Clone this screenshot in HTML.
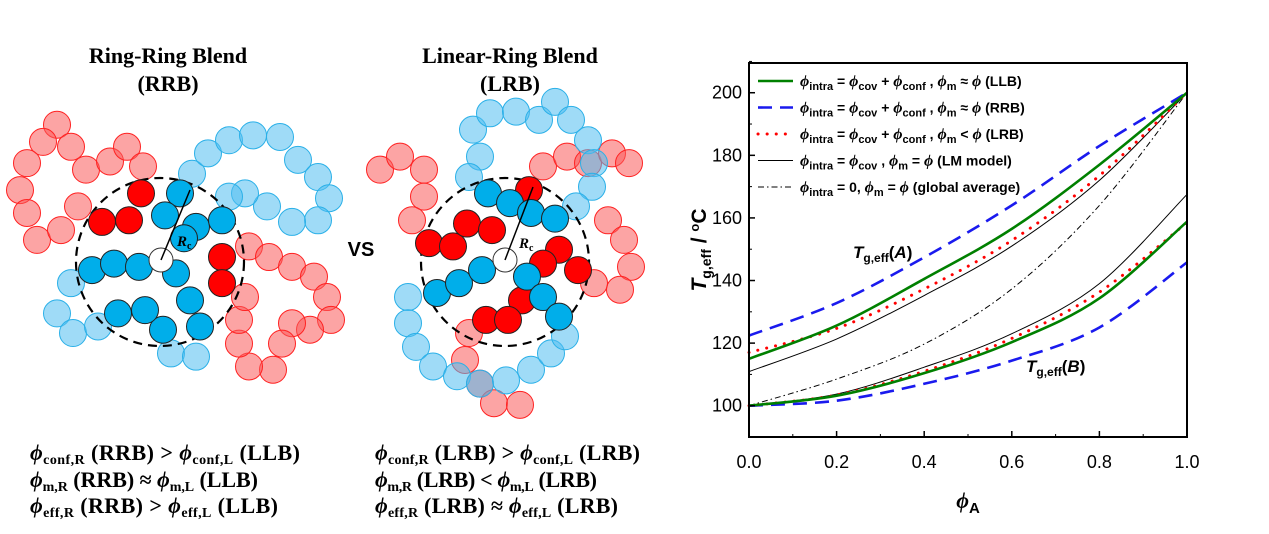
<!DOCTYPE html>
<html><head><meta charset="utf-8">
<style>
body{margin:0;width:1269px;height:534px;background:#fff;overflow:hidden;font-family:"Liberation Sans",sans-serif;}
svg{position:absolute;left:0;top:0}
.ser{font-family:"Liberation Serif",serif;font-weight:bold}
</style></head><body>
<svg id="s" width="1269" height="534">
<g id="diag"></g>
<text class="ser" x="168" y="63" font-size="22" text-anchor="middle">Ring-Ring Blend</text>
<text class="ser" x="168" y="91" font-size="22" text-anchor="middle">(RRB)</text>
<text class="ser" x="510" y="63" font-size="22" text-anchor="middle">Linear-Ring Blend</text>
<text class="ser" x="510" y="91" font-size="22" text-anchor="middle">(LRB)</text>
<text x="361" y="256" font-size="20" font-weight="bold" text-anchor="middle">VS</text>
<g class="ser" font-size="22">
<text x="30" y="460" textLength="270"><tspan font-style="italic">ϕ</tspan><tspan font-size="14" dy="4">conf,R</tspan><tspan dy="-4"> (RRB) &gt; </tspan><tspan font-style="italic">ϕ</tspan><tspan font-size="14" dy="4">conf,L</tspan><tspan dy="-4"> (LLB)</tspan></text>
<text x="30" y="487" textLength="228"><tspan font-style="italic">ϕ</tspan><tspan font-size="14" dy="4">m,R</tspan><tspan dy="-4"> (RRB) ≈ </tspan><tspan font-style="italic">ϕ</tspan><tspan font-size="14" dy="4">m,L</tspan><tspan dy="-4"> (LLB)</tspan></text>
<text x="30" y="513" textLength="248"><tspan font-style="italic">ϕ</tspan><tspan font-size="14" dy="4">eff,R</tspan><tspan dy="-4"> (RRB) &gt; </tspan><tspan font-style="italic">ϕ</tspan><tspan font-size="14" dy="4">eff,L</tspan><tspan dy="-4"> (LLB)</tspan></text>
</g>
<g class="ser" font-size="22">
<text x="375" y="460" textLength="265"><tspan font-style="italic">ϕ</tspan><tspan font-size="14" dy="4">conf,R</tspan><tspan dy="-4"> (LRB) &gt; </tspan><tspan font-style="italic">ϕ</tspan><tspan font-size="14" dy="4">conf,L</tspan><tspan dy="-4"> (LRB)</tspan></text>
<text x="375" y="487" textLength="222"><tspan font-style="italic">ϕ</tspan><tspan font-size="14" dy="4">m,R</tspan><tspan dy="-4"> (LRB) &lt; </tspan><tspan font-style="italic">ϕ</tspan><tspan font-size="14" dy="4">m,L</tspan><tspan dy="-4"> (LRB)</tspan></text>
<text x="375" y="513" textLength="243"><tspan font-style="italic">ϕ</tspan><tspan font-size="14" dy="4">eff,R</tspan><tspan dy="-4"> (LRB) ≈ </tspan><tspan font-style="italic">ϕ</tspan><tspan font-size="14" dy="4">eff,L</tspan><tspan dy="-4"> (LRB)</tspan></text>
</g>
<g id="chart"></g>
</svg>
<script>
const NS="http://www.w3.org/2000/svg";
function mk(tag,attrs,parent){const e=document.createElementNS(NS,tag);for(const k in attrs)e.setAttribute(k,attrs[k]);parent.appendChild(e);return e;}
const fy=y=>30+(y-30)*0.8167;
// ---------- diagrams ----------
const fr=[[57,146],[43,167],[27,193],[20,226],[27,254],[37,287],[61,275],[78,246],[71,173],[86,201],[110,191],[127,173],[143,197],
[249,295],[269,308],[292,320],[314,332],[327,357],[331,385],[310,397],[292,389],[282,414],[273,446],[249,442],[239,414],[239,385],[245,357],
[380,201],[400,185],[424,201],[424,234],[412,263],[543,197],[567,185],[588,193],[612,181],[629,193],[608,263],[624,287],[631,320],[620,348],[594,340],
[469,401],[465,434],[480,463],[494,487],[520,489]];
const fb=[[192,206],[208,181],[229,165],[253,159],[280,161],[298,189],[318,210],[329,236],[318,263],[292,265],[267,246],[245,230],[229,234],
[71,340],[57,377],[73,401],[98,393],[171,426],[196,430],
[473,152],[490,132],[516,130],[539,140],[555,118],[571,140],[588,165],[594,193],[592,222],[576,246],[480,185],[469,210],
[408,357],[408,389],[416,418],[433,442],[457,454],[480,463],[506,459],[531,446],[551,426],[565,405]];
const dr=[[141,230],[129,263],[102,265],[222,308],[222,340],
[429,291],[453,295],[467,267],[492,275],[529,226],[559,299],[578,324],[543,316],[522,361],[486,385],[508,385]];
const db=[[180,230],[165,257],[196,271],[222,263],[184,285],[92,324],[114,316],[139,320],[176,328],[190,361],[200,393],[163,397],[145,373],[118,377],
[488,230],[510,242],[531,254],[555,261],[437,352],[459,340],[482,324],[527,332],[543,357],[559,381]];
const dg=document.getElementById('diag');
fr.forEach(p=>{const c=mk('circle',{cx:p[0],cy:fy(p[1]),r:13.5,fill:'rgba(250,90,90,0.55)',stroke:'#f22','stroke-width':1},dg);

});
fb.forEach(p=>{const c=mk('circle',{cx:p[0],cy:fy(p[1]),r:13.5,fill:'rgba(80,190,240,0.55)',stroke:'#2ab0e8','stroke-width':1},dg);

});
[[160,262],[505,262]].forEach(p=>{const c=mk('circle',{cx:p[0],cy:p[1],r:84,fill:'none',stroke:'#000','stroke-width':2.2,'stroke-dasharray':'9,6'},dg);

});
dr.forEach(p=>{const c=mk('circle',{cx:p[0],cy:fy(p[1]),r:13.5,fill:'#f00',stroke:'#222','stroke-width':1},dg);

});
db.forEach(p=>{const c=mk('circle',{cx:p[0],cy:fy(p[1]),r:13.5,fill:'#00aeea',stroke:'#222','stroke-width':1},dg);

});
[[161,260,190,190,177,246],[505,260,533,187,519,248]].forEach(a=>{
const w=mk('circle',{cx:a[0],cy:a[1],r:12,fill:'#fff',stroke:'#333','stroke-width':1},dg);


const l=mk('line',{x1:a[0],y1:a[1],x2:a[2],y2:a[3],stroke:'#000','stroke-width':1.5},dg);


const t=mk('text',{x:a[4],y:a[5],'font-family':'Liberation Serif,serif','font-style':'italic','font-weight':'bold','font-size':15},dg);


t.innerHTML='R<tspan font-size="10" dy="3" font-style="normal">c</tspan>';});

// ---------- chart ----------
const xs=[0,0.2,0.4,0.6,0.8,1.0];
const greenA=[115,125.6,140.5,156.5,177,200];
const blueA=[122.4,132.8,147.4,164,183,200];
const redA=[117,124.7,137.3,152.8,173.5,200];
const blackA=[110.9,121.3,135.2,151,172,200];
const dashdot=[100,108.5,119.7,137.3,164,200];
const greenB=[100,103.2,110.4,120.3,134.3,158.8];
const blackB=[100,103.7,112.3,123,139,167.5];
const redB=[100,103.4,111,121.5,136.3,158.5];
const blueB=[100,101.6,107,114.4,125,145.8];
const xTicks=[0,0.2,0.4,0.6,0.8,1.0];
const yTicks=[100,120,140,160,180,200];
const X0=749,X1=1187,Y0=437,Y1=63,ymin=90,ymax=209.5;
const sx=v=>X0+(X1-X0)*v;
const sy=v=>Y0-(Y0-Y1)*(v-ymin)/(ymax-ymin);
const ch=document.getElementById('chart');
function pathFor(vals){
 const p=xs.map((x,i)=>[sx(x),sy(vals[i])]);
 let d='M'+p[0][0]+','+p[0][1];
 for(let i=0;i<p.length-1;i++){
  const p0=p[i-1]||p[i],p1=p[i],p2=p[i+1],p3=p[i+2]||p2;
  d+=` C${p1[0]+(p2[0]-p0[0])/6},${p1[1]+(p2[1]-p0[1])/6} ${p2[0]-(p3[0]-p1[0])/6},${p2[1]-(p3[1]-p1[1])/6} ${p2[0]},${p2[1]}`;
 }
 return d;
}
const styles={green:{stroke:'#008000','stroke-width':2.6},blue:{stroke:'#1a1aee','stroke-width':2.6,'stroke-dasharray':'14,8'},
red:{stroke:'#f00','stroke-width':3,'stroke-dasharray':'0.1,9','stroke-linecap':'round'},black:{stroke:'#000','stroke-width':1},
dd:{stroke:'#000','stroke-width':1,'stroke-dasharray':'6,3,1.5,3'}};
[[blueA,'blue','blue-dash-a'],[blueB,'blue','blue-dash-b'],[blackA,'black','lm-model-a'],[blackB,'black','lm-model-b'],[dashdot,'dd','global-average'],
[redA,'red','red-dot-a'],[redB,'red','red-dot-b'],[greenA,'green','green-llb-a'],[greenB,'green','green-llb-b']].forEach(s=>{
 const e=mk('path',Object.assign({d:pathFor(s[0]),fill:'none'},styles[s[1]]),ch);
 
 
});
const fr2=mk('rect',{x:X0,y:Y1,width:X1-X0,height:Y0-Y1,fill:'none',stroke:'#000','stroke-width':2},ch);


xTicks.forEach((t,i)=>{
 const l=mk('line',{x1:sx(t),x2:sx(t),y1:Y0,y2:Y0-6,stroke:'#000','stroke-width':1.5},ch);
 
 
 if(i<xTicks.length-1){const m=mk('line',{x1:sx(t+0.1),x2:sx(t+0.1),y1:Y0,y2:Y0-3,stroke:'#000','stroke-width':1},ch);
 
 }
 const tx=mk('text',{x:sx(t),y:Y0+31,'font-size':18,'text-anchor':'middle'},ch);
 
 
 tx.textContent=t.toFixed(1);
});
yTicks.forEach(t=>{
 const l=mk('line',{x1:X0,x2:X0+6,y1:sy(t),y2:sy(t),stroke:'#000','stroke-width':1.5},ch);
 
 
 const m=mk('line',{x1:X0,x2:X0+3,y1:sy(t+10),y2:sy(t+10),stroke:'#000','stroke-width':1},ch);
 
 
 const tx=mk('text',{x:X0-7,y:sy(t)+6,'font-size':18,'text-anchor':'end'},ch);
 
 
 tx.textContent=t;
});
const xt=mk('text',{x:968,y:508,'font-size':22,'font-weight':'bold','text-anchor':'middle'},ch);


xt.innerHTML='<tspan font-family="Liberation Serif,serif" font-style="italic">ϕ</tspan><tspan font-size="15" dy="5">A</tspan>';
const yt=mk('text',{x:0,y:0,'font-size':21,'font-weight':'bold','text-anchor':'middle',transform:'translate(706,250) rotate(-90)'},ch);


yt.innerHTML='<tspan font-style="italic">T</tspan><tspan font-size="14" dy="5">g,eff</tspan><tspan dy="-5"> / </tspan><tspan font-size="13" dy="-7">o</tspan><tspan dy="7">C</tspan>';
[[853,258,'A','annot-tg-a'],[1026,372,'B','annot-tg-b']].forEach(a=>{
 const t=mk('text',{x:a[0],y:a[1],'font-size':17,'font-weight':'bold'},ch);
 
 
 t.innerHTML='<tspan font-style="italic">T</tspan><tspan font-size="12" dy="4">g,eff</tspan><tspan dy="-4">(</tspan><tspan font-style="italic">'+a[2]+'</tspan>)';
});
const legendText=[
'<I>ϕ</I><S>intra</S><N> = </N><I>ϕ</I><S>cov</S><N> + </N><I>ϕ</I><S>conf</S><N> , </N><I>ϕ</I><S>m</S><N> ≈ </N><I>ϕ</I><N> (LLB)</N>',
'<I>ϕ</I><S>intra</S><N> = </N><I>ϕ</I><S>cov</S><N> + </N><I>ϕ</I><S>conf</S><N> , </N><I>ϕ</I><S>m</S><N> ≈ </N><I>ϕ</I><N> (RRB)</N>',
'<I>ϕ</I><S>intra</S><N> = </N><I>ϕ</I><S>cov</S><N> + </N><I>ϕ</I><S>conf</S><N> , </N><I>ϕ</I><S>m</S><N> &lt; </N><I>ϕ</I><N> (LRB)</N>',
'<I>ϕ</I><S>intra</S><N> = </N><I>ϕ</I><S>cov</S><N> , </N><I>ϕ</I><S>m</S><N> = </N><I>ϕ</I><N> (LM model)</N>',
'<I>ϕ</I><S>intra</S><N> = 0, </N><I>ϕ</I><S>m</S><N> = </N><I>ϕ</I><N> (global average)</N>'];
const legStyles=['green','blue','red','black','dd'];
legendText.forEach((h,i)=>{
 const y=81+i*26.5;
 const l=mk('line',Object.assign({x1:758,x2:793,y1:y,y2:y},styles[legStyles[i]]),ch);
 
 
 const t=mk('text',{x:800,y:y+5,'font-size':14,'font-weight':'bold'},ch);
 
 
 t.innerHTML=h.replace(/<I>/g,'<tspan font-family="Liberation Serif,serif" font-style="italic" font-size="16">').replace(/<\/I>/g,'</tspan>')
 .replace(/<S>/g,'<tspan font-size="11" dy="4">').replace(/<\/S><N>/g,'</tspan><tspan dy="-4">').replace(/<\/N>/g,'</tspan>').replace(/<N>/g,'<tspan>');
});
</script>
</body></html>
